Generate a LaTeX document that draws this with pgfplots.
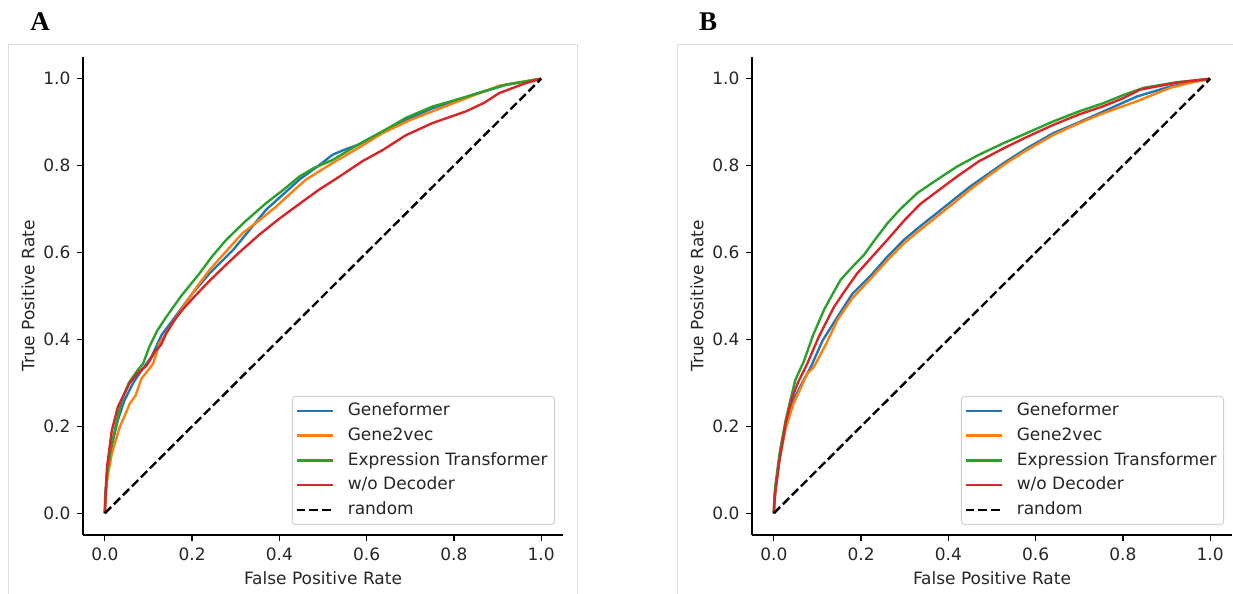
\documentclass[border=0pt]{standalone}
\usepackage{fontspec}
\setmainfont{DejaVu Sans}
\newfontfamily\panelfont{Liberation Serif}
\usepackage{pgfplots}
\pgfplotsset{compat=1.18}
\definecolor{tabblue}{HTML}{1F77B4}
\definecolor{taborange}{HTML}{FF7F0E}
\definecolor{tabgreen}{HTML}{2CA02C}
\definecolor{tabred}{HTML}{D62728}
\pgfkeys{/pgf/number format/.cd, fixed, fixed zerofill, precision=1, assume math mode=true}

% ---------------- Panel A data ----------------
\pgfplotstableread{
x y
0 0
0.002 0.05
0.008 0.11
0.018 0.165
0.03 0.215
0.045 0.26
0.065 0.30
0.085 0.33
0.107 0.36
0.13 0.41
0.156 0.445
0.2 0.505
0.24 0.552
0.294 0.606
0.33 0.65
0.37 0.699
0.41 0.735
0.446 0.768
0.49 0.80
0.522 0.825
0.545 0.835
0.583 0.849
0.637 0.879
0.69 0.905
0.751 0.932
0.843 0.963
0.919 0.986
1 1
}\Ablue
\pgfplotstableread{
x y
0 0
0.005 0.075
0.016 0.137
0.034 0.198
0.048 0.23
0.057 0.252
0.07 0.27
0.084 0.31
0.1 0.33
0.111 0.345
0.125 0.39
0.145 0.42
0.164 0.452
0.19 0.49
0.21 0.52
0.24 0.56
0.28 0.605
0.316 0.645
0.355 0.675
0.393 0.706
0.43 0.74
0.461 0.768
0.522 0.806
0.58 0.84
0.637 0.875
0.70 0.905
0.751 0.925
0.828 0.955
0.904 0.984
1 1
}\Aorange
\pgfplotstableread{
x y
0 0
0.001 0.04
0.004 0.08
0.007 0.106
0.016 0.16
0.027 0.21
0.039 0.26
0.055 0.30
0.075 0.329
0.088 0.345
0.102 0.383
0.12 0.42
0.141 0.452
0.175 0.50
0.217 0.552
0.245 0.59
0.278 0.629
0.32 0.67
0.37 0.714
0.41 0.745
0.446 0.775
0.48 0.795
0.522 0.813
0.58 0.848
0.637 0.879
0.69 0.91
0.751 0.936
0.80 0.95
0.843 0.963
0.919 0.986
1 1
}\Agreen
\pgfplotstableread{
x y
0 0
0.002 0.05
0.005 0.106
0.016 0.19
0.03 0.245
0.057 0.30
0.075 0.322
0.096 0.34
0.115 0.372
0.129 0.388
0.141 0.415
0.16 0.445
0.175 0.465
0.202 0.495
0.24 0.535
0.278 0.572
0.31 0.602
0.355 0.642
0.40 0.678
0.446 0.712
0.49 0.744
0.538 0.775
0.59 0.81
0.637 0.836
0.69 0.87
0.751 0.898
0.828 0.925
0.87 0.945
0.904 0.967
0.965 0.99
1 1
}\Ared

% ---------------- Panel B data ----------------
\pgfplotstableread{
x y
0 0
0.001 0.02
0.003 0.05
0.013 0.129
0.027 0.198
0.045 0.26
0.065 0.30
0.085 0.337
0.112 0.398
0.146 0.452
0.18 0.505
0.222 0.547
0.26 0.59
0.298 0.629
0.335 0.66
0.374 0.691
0.41 0.72
0.45 0.752
0.49 0.78
0.527 0.806
0.58 0.84
0.641 0.875
0.70 0.90
0.756 0.925
0.832 0.959
0.908 0.982
1 1
}\Bblue
\pgfplotstableread{
x y
0 0
0.001 0.02
0.003 0.045
0.013 0.125
0.027 0.195
0.045 0.252
0.076 0.32
0.092 0.337
0.12 0.39
0.146 0.445
0.18 0.495
0.222 0.54
0.26 0.582
0.298 0.621
0.335 0.652
0.374 0.683
0.41 0.712
0.45 0.745
0.49 0.775
0.527 0.802
0.58 0.836
0.641 0.871
0.70 0.898
0.756 0.921
0.832 0.948
0.908 0.979
0.96 0.992
1 1
}\Borange
\pgfplotstableread{
x y
0 0
0.001 0.03
0.003 0.06
0.013 0.137
0.027 0.214
0.049 0.306
0.069 0.35
0.09 0.41
0.115 0.468
0.135 0.505
0.153 0.537
0.18 0.567
0.207 0.595
0.23 0.627
0.26 0.667
0.29 0.70
0.329 0.737
0.37 0.765
0.42 0.798
0.47 0.825
0.527 0.852
0.58 0.875
0.641 0.902
0.70 0.925
0.756 0.944
0.80 0.962
0.847 0.979
0.924 0.992
1 1
}\Bgreen
\pgfplotstableread{
x y
0 0
0.001 0.02
0.003 0.045
0.013 0.122
0.027 0.206
0.04 0.26
0.055 0.30
0.077 0.345
0.103 0.406
0.138 0.475
0.165 0.515
0.191 0.552
0.225 0.59
0.26 0.629
0.30 0.675
0.336 0.712
0.38 0.745
0.42 0.775
0.47 0.81
0.527 0.840
0.58 0.866
0.641 0.894
0.70 0.918
0.756 0.937
0.80 0.955
0.84 0.975
0.924 0.991
1 1
}\Bred

\pgfplotsset{
  rocstyle/.style={
    scale only axis, width=240pt, height=239pt,
    anchor=south west,
    xmin=-0.05, xmax=1.05, ymin=-0.05, ymax=1.05,
    axis lines=left,
    axis line style={-, line width=0.64pt, black},
    xtick={0,0.2,0.4,0.6,0.8,1.0},
    ytick={0,0.2,0.4,0.6,0.8,1.0},
    tick align=outside, major tick length=2.8pt,
    tick style={line width=0.64pt, black},
    tick label style={font=\fontsize{8.5}{10}\selectfont, text=black!85},
    label style={font=\fontsize{8.5}{10}\selectfont, text=black!85},
    xlabel={False Positive Rate}, ylabel={True Positive Rate},
    xlabel style={at={(axis description cs:0.5,0)}, anchor=center, yshift=-21.5pt},
    ylabel style={at={(axis description cs:0,0.5)}, anchor=center, yshift=27.5pt},
    legend cell align=left,
    legend image code/.code={\draw[#1] (0pt,0pt) -- (18pt,0pt);},
    legend style={at={(1,0)}, anchor=south east, xshift=-4pt, yshift=5pt,
      draw=black!18, fill=white, rounded corners=1.5pt, line width=0.5pt,
      font=\fontsize{8.5}{10}\selectfont, text=black!85,
      inner xsep=1.5pt, inner ysep=2.5pt, row sep=3pt, column sep=5pt,
      nodes={text height=6.2pt, text depth=1.6pt, inner ysep=0.8pt, inner xsep=2pt}},
    every axis plot/.append style={line width=1.2pt},
  }
}

\begin{document}
\begin{tikzpicture}
\useasboundingbox (0,0) rectangle (616.5pt,297pt);
% faint panel frames
\draw[black!13, line width=0.5pt] (4pt,0) -- (4pt,274.5pt) -- (288.5pt,274.5pt) -- (288.5pt,0);
\draw[black!13, line width=0.5pt] (338.5pt,0) -- (338.5pt,274.5pt) -- (616.5pt,274.5pt);
% panel letters
\node[font=\panelfont\bfseries\fontsize{13.5}{16}\selectfont] at (20pt,286pt) {A};
\node[font=\panelfont\bfseries\fontsize{13.5}{16}\selectfont] at (354pt,286pt) {B};

\begin{axis}[rocstyle, at={(41.5pt,29.5pt)}]
\addplot[tabblue] table {\Ablue};
\addlegendentry{Geneformer}
\addplot[taborange] table {\Aorange};
\addlegendentry{Gene2vec}
\addplot[tabgreen] table {\Agreen};
\addlegendentry{Expression Transformer}
\addplot[tabred] table {\Ared};
\addlegendentry{w/o Decoder}
\addplot[black, dash pattern=on 4.44pt off 1.92pt] coordinates {(0,0) (1,1)};
\addlegendentry{random}
\end{axis}

\begin{axis}[rocstyle, at={(376pt,29.5pt)}]
\addplot[tabblue] table {\Bblue};
\addlegendentry{Geneformer}
\addplot[taborange] table {\Borange};
\addlegendentry{Gene2vec}
\addplot[tabgreen] table {\Bgreen};
\addlegendentry{Expression Transformer}
\addplot[tabred] table {\Bred};
\addlegendentry{w/o Decoder}
\addplot[black, dash pattern=on 4.44pt off 1.92pt] coordinates {(0,0) (1,1)};
\addlegendentry{random}
\end{axis}
\end{tikzpicture}
\end{document}
